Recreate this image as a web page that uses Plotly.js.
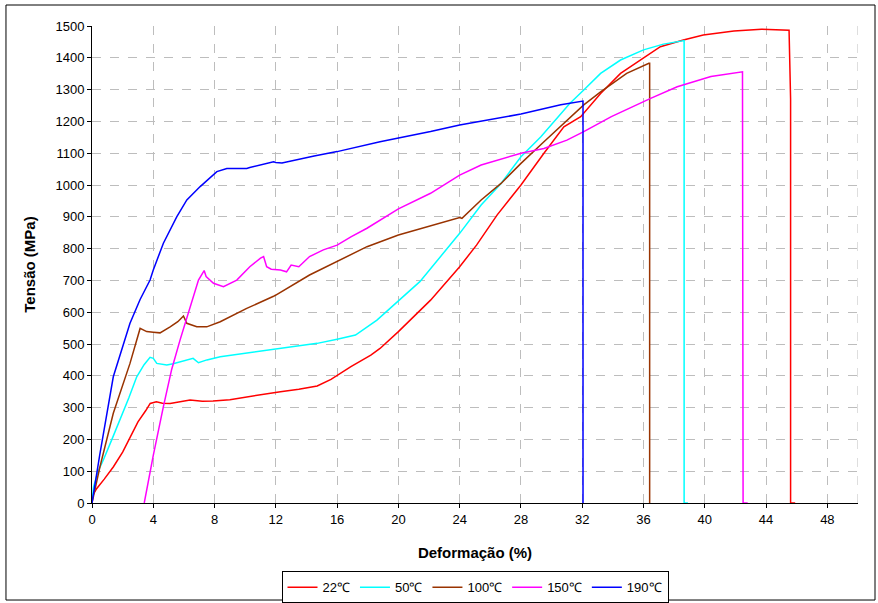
<!DOCTYPE html>
<html>
<head>
<meta charset="utf-8">
<script src="https://cdn.plot.ly/plotly-3.0.1.min.js"></script>
<style>html,body{margin:0;padding:0;background:#fff;}</style>
</head>
<body>
<div id="chart" style="width:878px;height:603px;"></div>
<script>
// Series labels
const seriesNames = ['22\u2103', '50\u2103', '100\u2103', '150\u2103', '190\u2103'];

// 22 °C
const x22 = [0, 0.3, 0.8, 1.4, 2.0, 2.5, 3.0, 3.5, 3.8, 4.2, 4.6, 5.1, 5.6, 6.4, 7.2, 7.9, 9.0, 10.1, 11.2, 12.3, 13.5, 14.7, 15.6, 16.9, 18.2, 18.8, 20.0, 22.1, 24.0, 25.1, 26.45, 28.0, 29.5, 30.8, 31.9, 33.2, 34.5, 36.0, 37.1, 38.6, 39.9, 41.9, 43.7, 45.5, 45.55, 45.6, 45.6, 45.9];
const y22 = [20, 45, 75, 114, 160, 208, 255, 290, 313, 318, 314, 313, 318, 324, 320, 321, 325, 334, 341, 350, 358, 368, 389, 429, 465, 486, 539, 638, 743, 811, 906, 1000, 1100, 1183, 1215, 1288, 1351, 1398, 1435, 1456, 1472, 1484, 1490, 1487, 1300, 1270, 0, 0];

// 50 °C
const x50 = [0, 0.1, 0.4, 0.74, 1.3, 1.83, 2.4, 2.92, 3.4, 3.79, 4.0, 4.23, 4.6, 4.88, 5.3, 5.75, 6.2, 6.6, 6.95, 7.5, 8.37, 10.3, 12.0, 14.7, 16.0, 17.2, 18.6, 20.0, 21.4, 24.0, 25.4, 26.7, 28.0, 29.3, 30.6, 31.2, 32.1, 33.2, 34.5, 36.0, 37.3, 38.65, 38.65, 38.9];
const y50 = [0, 51, 100, 135, 200, 261, 330, 397, 435, 458, 455, 439, 435, 434, 438, 444, 450, 455, 441, 450, 460, 473, 486, 502, 515, 528, 575, 635, 696, 848, 937, 1005, 1089, 1152, 1225, 1257, 1299, 1351, 1393, 1425, 1443, 1454, 0, 0];

// 100 °C
const x100 = [0, 0.5, 1.39, 2.0, 2.48, 3.14, 3.57, 4.0, 4.44, 5.1, 5.6, 5.97, 6.19, 6.84, 7.49, 8.37, 10.1, 11.85, 12.0, 14.2, 16.0, 17.95, 20.0, 22.1, 24.0, 24.15, 25.4, 26.7, 28.0, 29.5, 30.8, 32.1, 33.2, 34.9, 36.35, 36.4, 36.4];
const y100 = [0, 110, 282, 370, 439, 549, 539, 537, 535, 554, 570, 588, 565, 554, 554, 570, 612, 650, 654, 717, 759, 806, 843, 871, 898, 895, 953, 1005, 1068, 1136, 1194, 1252, 1293, 1351, 1383, 1383, 0];

// 150 °C
const x150 = [3.41, 4.0, 4.66, 5.2, 5.75, 6.4, 6.95, 7.32, 7.45, 7.93, 8.58, 9.45, 10.3, 11.0, 11.2, 11.4, 11.7, 12.3, 12.7, 13.0, 13.5, 14.2, 15.1, 16.0, 16.9, 17.95, 19.0, 20.0, 22.1, 24.0, 25.4, 26.7, 28.0, 29.5, 31.0, 32.1, 33.9, 36.5, 38.2, 40.4, 42.46, 42.5, 42.8];
const y150 = [0, 150, 303, 420, 513, 615, 701, 731, 712, 691, 680, 701, 743, 770, 775, 743, 735, 733, 727, 748, 743, 775, 796, 811, 837, 864, 895, 925, 974, 1031, 1063, 1081, 1100, 1115, 1141, 1168, 1215, 1273, 1309, 1341, 1356, 0, 0];

// 190 °C
const x190 = [0, 0.5, 1.39, 2.0, 2.48, 3.14, 3.79, 4.0, 4.66, 5.53, 6.19, 7.06, 8.15, 8.8, 10.1, 10.3, 11.85, 12.0, 12.4, 14.5, 16.0, 18.8, 20.0, 22.1, 24.0, 26.45, 28.0, 30.6, 32.0, 32.05, 32.05];
const y190 = [0, 150, 397, 490, 565, 640, 701, 733, 817, 900, 953, 995, 1042, 1052, 1052, 1055, 1073, 1071, 1069, 1091, 1105, 1136, 1147, 1168, 1189, 1210, 1223, 1252, 1264, 1264, 0];

const xTickVals = [0, 4, 8, 12, 16, 20, 24, 28, 32, 36, 40, 44, 48];
const yTickVals = [0, 100, 200, 300, 400, 500, 600, 700, 800, 900, 1000, 1100, 1200, 1300, 1400, 1500];

const colors = ['#ff0000', '#00ffff', '#993300', '#ff00ff', '#0000ff'];
const xs = [x22, x50, x100, x150, x190];
const ys = [y22, y50, y100, y150, y190];

const traces = xs.map((x, i) => ({
  x: x, y: ys[i], type: 'scatter', mode: 'lines', name: seriesNames[i],
  line: {color: colors[i], width: 1.5}, hoverinfo: 'skip'
}));

const layout = {
  width: 878, height: 603,
  margin: {l: 92, r: 20, t: 26, b: 100, autoexpand: false},
  paper_bgcolor: '#ffffff', plot_bgcolor: '#ffffff',
  font: {family: 'Liberation Sans, Arial, sans-serif', size: 13, color: '#000'},
  xaxis: {
    range: [0, 50], tickmode: 'array', tickvals: xTickVals, ticktext: xTickVals.map(String),
    ticks: 'outside', ticklen: 4, tickcolor: '#000', showline: true, linecolor: '#000', linewidth: 1,
    showgrid: true, gridcolor: '#bdbdbd', griddash: 'dash', gridwidth: 1, zeroline: false,
    automargin: false,
    title: {text: '<b>Deformação (%)</b>', font: {size: 15}}
  },
  yaxis: {
    range: [0, 1500], tickmode: 'array', tickvals: yTickVals, ticktext: yTickVals.map(String),
    ticks: 'outside', ticklen: 4, tickcolor: '#000', showline: true, linecolor: '#000', linewidth: 1,
    showgrid: true, gridcolor: '#bdbdbd', griddash: 'dash', gridwidth: 1, zeroline: false,
    automargin: false,
    title: {text: '<b>Tensão (MPa)</b>', font: {size: 15}, standoff: 16}
  },
  showlegend: true,
  legend: {
    orientation: 'h', x: 0.5, xanchor: 'center', y: -0.143, yanchor: 'top',
    bordercolor: '#000', borderwidth: 1, font: {size: 13}, itemwidth: 30,
    tracegroupgap: 0, traceorder: 'normal'
  },
  shapes: [
    {type: 'line', xref: 'x', yref: 'paper', x0: 50, x1: 50, y0: 0, y1: 1,
     line: {color: '#bdbdbd', width: 1, dash: 'dash'}},
    {type: 'rect', xref: 'paper', yref: 'paper', x0: -0.1123, x1: 1.0222, y0: -0.2034, y1: 1.044,
     line: {color: '#000', width: 1}, fillcolor: 'rgba(0,0,0,0)'}
  ]
};

Plotly.newPlot('chart', traces, layout, {displayModeBar: false, staticPlot: true});
</script>
</body>
</html>
